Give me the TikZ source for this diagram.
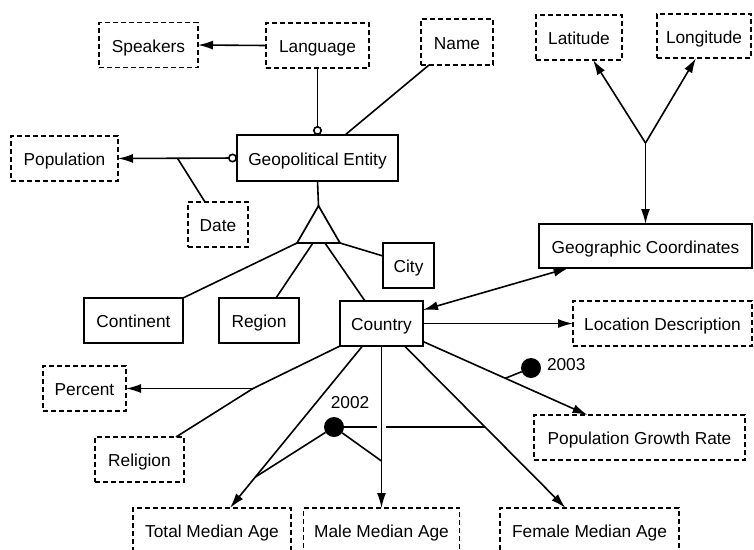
\documentclass[tikz,border=0pt]{standalone}
\usepackage{fontspec}
\setmainfont{Liberation Sans}
\usetikzlibrary{arrows.meta,calc,shapes.geometric}
\begin{document}
\begin{tikzpicture}[x=1pt,y=-1pt,
  font=\fontsize{17.3}{20}\selectfont,
  every node/.style={inner sep=0pt,outer sep=0pt},
  boxtext/.style={text height=16pt,text depth=1.6pt,minimum height=45pt},
  ent/.style={draw,line width=1.9pt,boxtext},
  attr/.style={draw,line width=1.7pt,dash pattern=on 5pt off 3pt,boxtext},
  link/.style={line width=1.6pt},
  tip/.tip={Latex[length=15pt,width=9pt]},
  ring/.tip={Circle[open,length=9pt,width=9pt]},
  arr/.style={link,-tip},
  darr/.style={link,tip-tip},
  dot/.style={circle,fill=black,minimum size=20pt}
]
\clip (0,0) rectangle (754,549);
\fill[white] (0,0) rectangle (754,549);

% entities and attributes
\node[attr,minimum width=99pt] (speakers) at (148.5,45) {Speakers};
\node[attr,minimum width=103pt] (language) at (317.5,45.5) {Language};
\node[attr,minimum width=72pt,minimum height=46pt] (name) at (457,42) {Name};
\node[attr,minimum width=86pt] (latitude) at (579,37.5) {Latitude};
\node[attr,minimum width=94pt,minimum height=44pt] (longitude) at (704,36) {Longitude};
\node[ent,minimum width=161pt,minimum height=46pt] (geo) at (317.5,158) {Geopolitical Entity};
\node[attr,minimum width=107pt] (population) at (64.5,158.5) {Population};
\node[attr,minimum width=60pt] (date) at (218,224.5) {Date};
\node[draw,regular polygon,regular polygon sides=3,minimum size=49.6pt,line width=1.7pt] (isa) at (318.5,230.6) {};
\node[ent,minimum width=51pt] (city) at (408.5,265.5) {City};
\node[ent,minimum width=99pt] (continent) at (133.5,320.5) {Continent};
\node[ent,minimum width=80pt] (region) at (259,320.5) {Region};
\node[ent,minimum width=83pt] (country) at (381.5,323.5) {Country};
\node[ent,minimum width=213pt,minimum height=44pt] (coords) at (645.5,246) {Geographic Coordinates};
\node[attr,minimum width=179pt] (locdesc) at (662.5,323.5) {Location Description};
\node[attr,minimum width=211pt] (growth) at (639.5,437.5) {Population Growth Rate};
\node[attr,minimum width=83pt] (percent) at (84.5,388.5) {Percent};
\node[attr,minimum width=89pt] (religion) at (139.5,459.5) {Religion};
\node[attr,minimum width=158pt] (totalage) at (212,530.5) {Total Median Age};
\node[attr,minimum width=156pt] (maleage) at (381.5,530.5) {Male Median Age};
\node[attr,minimum width=179pt] (femaleage) at (589.5,530.5) {Female Median Age};

% geopolitical entity and its attributes
\draw[arr] (language.west) -- (speakers.east);
\draw[link,-ring] (language.south) -- (geo.north);
\draw[link] ([xshift=8pt]name.south west) -- ([xshift=27.5pt]geo.north);
\draw[link,ring-tip] (geo.west) -- (population.east);
\coordinate (popdate) at ($(population.east)!0.5!(geo.west)$);
\draw[link] ([xshift=-13pt]date.north) -- (popdate);

% specialisation triangle
\draw[link] (geo.south) -- (isa.corner 1);
\draw[link] (isa.corner 2) -- (continent.north east);
\draw[link] ($(isa.corner 2)!0.37!(isa.corner 3)$) -- ([xshift=17pt]region.north);
\draw[link] ($(isa.corner 2)!0.65!(isa.corner 3)$) -- ([xshift=-16.5pt]country.north);
\draw[link] (isa.corner 3) -- ([yshift=9.5pt]city.west);

% coordinates fork
\coordinate (fork) at ([yshift=81pt]coords.north);
\draw[arr] (fork) -- (coords.north);
\draw[arr] (fork) -- ([xshift=14pt]latitude.south);
\draw[arr] (fork) -- ([xshift=-8pt]longitude.south);

% country links
\draw[darr] ([xshift=-77pt]coords.south) -- ([yshift=13.5pt]country.east);
\draw[arr] (country.east) -- (locdesc.west);
\coordinate (cgrow) at ([yshift=-18pt]country.east);
\draw[arr] (cgrow) -- ([xshift=-52pt]growth.north);
\coordinate (gj) at ($(cgrow)!0.5!([xshift=-52pt]growth.north)$);
\node[dot] (dot2003) at (531,368) {};
\draw[link] (dot2003) -- (gj);
\node[anchor=west] (lbl2003) at (547,365) {2003};

% religion and percent
\coordinate (relj) at (253,388.5);
\draw[link] (country.south west) -- (relj) -- ([xshift=-8pt]religion.north east);
\draw[arr] (relj) -- (percent.east);

% median ages
\coordinate (ctot) at ([xshift=-19pt]country.south);
\coordinate (cfem) at ([xshift=23pt]country.south);
\draw[arr] (ctot) -- ([xshift=18pt]totalage.north);
\draw[arr] (country.south) -- (maleage.north);
\draw[arr] (cfem) -- ([xshift=-24pt]femaleage.north);
\coordinate (tj) at ($(ctot)!0.809!([xshift=18pt]totalage.north)$);
\coordinate (mj) at ($(country.south)!0.71!(maleage.north)$);
\coordinate (fj) at ($(cfem)!0.5!([xshift=-24pt]femaleage.north)$);
\coordinate (cross) at (fj -| country.south);
\node[dot] (dot2002) at (334,427) {};
\node (lbl2002) at (350,403) {2002};
\draw[link] (dot2002) -- (tj);
\draw[link] (dot2002) -- (mj);
\draw[link] (dot2002) -- ([xshift=-4.5pt]cross);
\draw[link] ([xshift=4.5pt]cross) -- (fj);
\end{tikzpicture}
\end{document}
